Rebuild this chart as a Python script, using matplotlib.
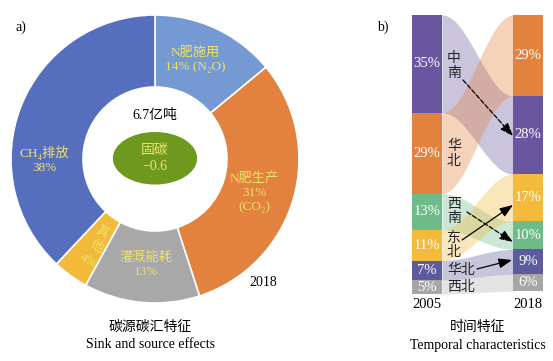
import matplotlib
matplotlib.use("Agg")
import matplotlib.pyplot as plt
import numpy as np
from matplotlib.patches import Ellipse

plt.rcParams['font.family'] = ['Liberation Serif', 'Noto Sans CJK SC', 'DejaVu Sans']

# ---------------- data ----------------
# Panel a: carbon source shares (clockwise from top)
src_labels = ['N肥施用\n14% (N₂O)', 'N肥生产\n31%\n(CO₂)', '灌溉能耗\n13%', '其\n他\n4%', 'CH₄排放\n38%']
src_values = [14, 31, 13, 4, 38]
src_colors = ['#7499D3', '#E3823E', '#A8A8A8', '#F2B93A', '#566EBE']
total_text = '6.7亿吨'
sink_text = '固碳\n−0.6'
year_a = '2018'

# Panel b: regional shares
regions_2005 = ['中南', '华北', '西南', '东北', '华北', '西北']
share_2005 = [35, 29, 13, 11, 7, 5]
# order of the same regions (index into regions_2005) in 2018 bar, top->bottom
order_2018 = [1, 0, 3, 2, 4, 5]
share_2018 = [29, 28, 17, 10, 9, 6]   # values in 2018 order
region_colors = ['#6A56A0', '#E3823E', '#6DBB88', '#F3BA3C', '#5D5B9D', '#A6A6A6']
years_b = ['2005', '2018']

W, H = 553, 361
fig = plt.figure(figsize=(W / 100, H / 100), dpi=100)
fig.patch.set_facecolor('white')

TXT = '#EDE36A'
FSA = 9.5    # donut labels
FST = 10     # titles
FSB = 10.5   # panel b numbers

# ---------------- panel a ----------------
cx, cy, R = 155, 159, 144
ax = fig.add_axes([(cx - R) / W, (H - cy - R) / H, 2 * R / W, 2 * R / H])
ax.pie(src_values, colors=src_colors, startangle=90, counterclock=False, radius=1.0,
       wedgeprops=dict(width=0.5, edgecolor='white', linewidth=1.2))
ax.set_xlim(-1, 1)
ax.set_ylim(-1, 1)
ax.axis('off')
ax.add_patch(Ellipse((0, 0.005), 0.585, 0.365, facecolor='#6F991E', edgecolor='none'))
ax.text(0, 0.005, sink_text, ha='center', va='center', color=TXT, fontsize=FST, linespacing=1.25)
ax.text(0, 0.30, total_text, ha='center', va='center', color='black', fontsize=FST)
ax.text(0.75, -0.86, year_a, ha='center', va='center', color='black', fontsize=FST)

lab_pos = [(0.28, 0.69), (0.69, -0.235), (-0.06, -0.73), None, (-0.77, -0.005)]
for lab, pos in zip(src_labels, lab_pos):
    if pos is None:
        # rotated, stacked label of the small slice
        parts = lab.split('\n')
        pts = [(-0.368, -0.507), (-0.403, -0.611), (-0.465, -0.708)]
        for p, (x, y) in zip(parts, pts):
            ax.text(x, y, p, ha='center', va='center', color=TXT, fontsize=FSA,
                    rotation=-30, rotation_mode='anchor')
        continue
    x, y = pos
    ax.text(x, y, lab, ha='center', va='center', color=TXT, fontsize=FSA, linespacing=1.25)

fig.text(21 / W, 1 - 27 / H, 'a)', ha='center', va='center', fontsize=FST)
fig.text(150 / W, 1 - 327 / H, '碳源碳汇特征', ha='center', va='center', fontsize=FST)
fig.text(150 / W, 1 - 345 / H, 'Sink and source effects', ha='center', va='center', fontsize=FST)

# ---------------- panel b ----------------
bx0, bx1 = 427, 528          # bar centres (px)
unit = bx1 - bx0
bw = 30 / unit
top, bot = 15, 294
axb = fig.add_axes([(bx0 - 15) / W, (H - bot) / H, (unit + 30) / W, (bot - top) / H])
axb.set_xlim(-bw / 2, 1 + bw / 2)
axb.set_ylim(100, 0)
axb.axis('off')

# left bar
left_edges = np.concatenate([[0], np.cumsum(share_2005)[:-1]])
axb.bar([0] * 6, share_2005, bottom=left_edges, width=bw, color=region_colors, align='center')
for v, b in zip(share_2005, left_edges):
    axb.text(0, b + v / 2, f'{v}%', ha='center', va='center', color='white', fontsize=FSB)

# right bar
right_edges_o = np.concatenate([[0], np.cumsum(share_2018)[:-1]])
right_colors = [region_colors[i] for i in order_2018]
axb.bar([1] * 6, share_2018, bottom=right_edges_o, width=bw, color=right_colors, align='center')
for v, b in zip(share_2018, right_edges_o):
    axb.text(1, b + v / 2, f'{v}%', ha='center', va='center', color='white', fontsize=FSB)

# flows
xs = np.linspace(bw / 2, 1 - bw / 2, 200)
t = (xs - xs[0]) / (xs[-1] - xs[0])
s = (1 - np.cos(np.pi * t)) / 2
for k in range(6):
    j = order_2018.index(k)
    l0, l1 = left_edges[k], left_edges[k] + share_2005[k]
    r0, r1 = right_edges_o[j], right_edges_o[j] + share_2018[j]
    y0 = l0 + (r0 - l0) * s
    y1 = l1 + (r1 - l1) * s
    axb.fill_between(xs, y0, y1, color=region_colors[k], alpha=0.35 if k != 5 else 0.3,
                     linewidth=0)

# region labels
def px2x(px):
    return (px - bx0) / unit

def py2y(py):
    return (py - top) / (bot - top) * 100

lbl = [('中\n南', 447, 66), ('华\n北', 447, 154), ('西\n南', 447, 211.5), ('东\n北', 447, 245.5),
       ('华北', 447, 270), ('西北', 447, 287)]
for txt, px, py in lbl:
    axb.text(px2x(px), py2y(py), txt, ha='left', va='center', color='#222222', fontsize=FST,
             linespacing=1.15, clip_on=False)

arrows = [((463, 80), (513, 136), '--'), ((462, 240), (513, 205), '-'),
          ((467, 212), (513, 242), '--'), ((477, 269), (512, 260), '-')]
for (sx, sy), (ex, ey), ls in arrows:
    axb.annotate('', xy=(px2x(ex), py2y(ey)), xytext=(px2x(sx), py2y(sy)),
                 arrowprops=dict(arrowstyle='-|>,head_length=0.8,head_width=0.3', color='black',
                                 lw=0.9, linestyle=ls, shrinkA=0, shrinkB=0),
                 annotation_clip=False)

for i, yr in enumerate(years_b):
    axb.text(i, py2y(305), yr, ha='center', va='center', fontsize=FSB, clip_on=False)

fig.text(383 / W, 1 - 27 / H, 'b)', ha='center', va='center', fontsize=FST)
fig.text(478 / W, 1 - 327 / H, '时间特征', ha='center', va='center', fontsize=FST)
fig.text(478 / W, 1 - 345 / H, 'Temporal characteristics', ha='center', va='center', fontsize=FST)

fig.savefig('out.png', dpi=100)
